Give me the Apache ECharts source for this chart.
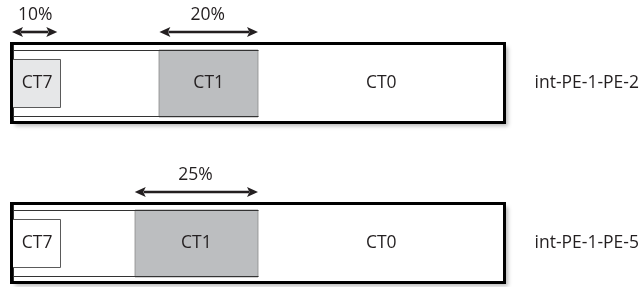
<!DOCTYPE html>
<html><head><meta charset="utf-8">
<script src="https://cdn.jsdelivr.net/npm/echarts@6/dist/echarts.min.js"></script>
<style>html,body{margin:0;padding:0;background:#fff}#c{width:642px;height:287px}</style>
</head><body><div id="c"></div>
<script>
// ---- data ----
const rows = ['int-PE-1-PE-2', 'int-PE-1-PE-5'];
const ct7Share = [10, 10];          // % of link bandwidth
const ct1Share = [20, 25];          // % of link bandwidth
const ct1End = [50, 50];            // CT1 pool ends at 50 % of link
const ct7ArrowLabels = ['10%', ''];
const ct1ArrowLabels = ['20%', '25%'];
const ct7Shaded = [true, false];
const classNames = ['CT7', 'CT1', 'CT0'];
const linkTotal = 100;

const FONT = '"Open Sans", "DejaVu Sans", sans-serif';
const TXT = '#231f20';
const FS = 17.5;

const seriesData = rows.map((r, i) => [i, ct7Share[i], ct1End[i] - ct1Share[i], ct1End[i]]);

function arrow(x1, x2, y) {
  const hl = 11, hw = 5;
  return [
    { type: 'line', shape: { x1: x1 + hl - 2, y1: y, x2: x2 - hl + 2, y2: y },
      style: { stroke: TXT, lineWidth: 2.6 } },
    { type: 'polygon', shape: { points: [[x1, y], [x1 + hl, y - hw], [x1 + hl - 2.5, y], [x1 + hl, y + hw]] },
      style: { fill: TXT } },
    { type: 'polygon', shape: { points: [[x2, y], [x2 - hl, y - hw], [x2 - hl + 2.5, y], [x2 - hl, y + hw]] },
      style: { fill: TXT } }
  ];
}

function renderItem(params, api) {
  const i = api.value(0);
  const p0 = api.coord([0, i]);
  const pE = api.coord([linkTotal, i]);
  const p7 = api.coord([api.value(1), i]);
  const p1s = api.coord([api.value(2), i]);
  const p1e = api.coord([api.value(3), i]);
  const c = p0[1];
  const x0 = p0[0], xE = pE[0];
  const outerH = 39.5;
  const innerTop = c - 33, innerBot = c + 34;
  const ch = [];
  // outer box with shadow
  ch.push({ type: 'rect', shape: { x: x0, y: c - outerH, width: xE - x0, height: 2 * outerH },
    style: { fill: '#fff', shadowColor: 'rgba(0,0,0,0.28)', shadowBlur: 4, shadowOffsetX: 3, shadowOffsetY: 3 } });
  // CT1 pool
  ch.push({ type: 'rect', shape: { x: Math.round(p1s[0]), y: innerTop, width: Math.round(p1e[0]) - Math.round(p1s[0]), height: innerBot - innerTop },
    style: { fill: '#bcbec0', stroke: '#8a8a8c', lineWidth: 0.8 } });
  // thin inner frame (CT1 + CT7 region)
  const xr = Math.round(p1e[0]) + 0.5;
  ch.push({ type: 'polyline', shape: { points: [[xr, innerTop + 0.5], [x0, innerTop + 0.5]] },
    style: { stroke: '#333', lineWidth: 1, fill: null } });
  ch.push({ type: 'polyline', shape: { points: [[xr, innerBot - 0.5], [x0, innerBot - 0.5]] },
    style: { stroke: '#333', lineWidth: 1, fill: null } });
  ch.push({ type: 'line', shape: { x1: Math.round(x0) + 1.5, y1: c - outerH, x2: Math.round(x0) + 1.5, y2: c + outerH },
    style: { stroke: '#333', lineWidth: 1 } });
  // CT7 pool
  ch.push({ type: 'rect', shape: { x: x0, y: c - 24 + 0.5, width: Math.round(p7[0]) - x0 - 0.5, height: 48 },
    style: { fill: ct7Shaded[i] ? '#e6e7e8' : '#fff', stroke: '#5a5a5a', lineWidth: 1 } });
  // outer border
  ch.push({ type: 'rect', shape: { x: x0, y: c - outerH, width: xE - x0, height: 2 * outerH },
    style: { fill: null, stroke: '#000', lineWidth: 3 } });
  // labels
  const lbl = (t, x) => ({ type: 'text', x: x, y: c,
    style: { text: t, fill: TXT, font: FS + 'px ' + FONT, align: 'center', verticalAlign: 'middle' } });
  ch.push(lbl(classNames[0], (x0 + p7[0]) / 2 + 1));
  ch.push(lbl(classNames[1], (p1s[0] + p1e[0]) / 2));
  ch.push(lbl(classNames[2], (p1e[0] + xE) / 2));
  // arrows
  const ay = c - 51;
  const pct = (t, x) => ({ type: 'text', x: x, y: c - 68,
    style: { text: t, fill: TXT, font: FS + 'px ' + FONT, align: 'center', verticalAlign: 'middle' } });
  if (ct7ArrowLabels[i]) {
    ch.push(...arrow(x0 + 0.5, p7[0] - 3.5, ay));
    ch.push(pct(ct7ArrowLabels[i], (x0 + p7[0]) / 2 - 1));
  }
  if (ct1ArrowLabels[i]) {
    ch.push(...arrow(p1s[0], p1e[0], ay));
    ch.push(pct(ct1ArrowLabels[i], (p1s[0] + p1e[0]) / 2 - 1));
  }
  return { type: 'group', children: ch };
}

const chart = echarts.init(document.getElementById('c'), null, { renderer: 'canvas' });
chart.setOption({
  animation: false,
  grid: { left: 11.5, right: 137.5, top: 3, height: 320, containLabel: false, outerBoundsMode: 'none' },
  xAxis: { type: 'value', min: 0, max: linkTotal, show: false },
  yAxis: {
    type: 'category', data: rows, inverse: true, position: 'right',
    axisLine: { show: false }, axisTick: { show: false }, splitLine: { show: false },
    axisLabel: { margin: 30, align: 'left', fontSize: FS, color: TXT, fontFamily: FONT }
  },
  series: [{ type: 'custom', renderItem: renderItem, data: seriesData, clip: false,
    encode: { x: [1, 2, 3], y: 0 } }]
});
</script></body></html>
